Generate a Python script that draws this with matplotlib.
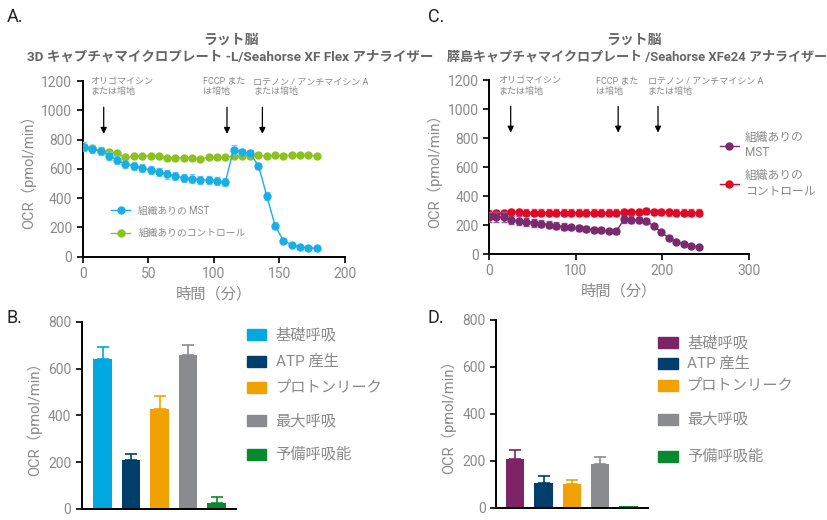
import matplotlib
matplotlib.use('Agg')
import matplotlib.pyplot as plt
from matplotlib.patches import Rectangle

plt.rcParams['font.family'] = ['Roboto', 'Noto Sans CJK JP', 'DejaVu Sans']

GRAY = '#8a8a8a'
TITLE = '#666666'

# ---- panel A: rat brain, 3D capture microplate / XF Flex
time_a = [1.0, 7.3, 13.6, 20.0, 26.3, 32.6, 39.0, 45.3, 51.7, 58.0, 64.3, 70.7, 77.0, 83.3, 89.7,
          96.0, 102.3, 108.7, 115.0, 121.4, 127.7, 134.0, 140.4, 146.7, 153.0, 159.4, 165.7, 172.1, 178.4]
mst_a = [752, 736, 720, 690, 660, 630, 621, 605, 593, 579, 563, 552, 538, 533, 524,
         522, 517, 508, 731, 717, 706, 621, 414, 212, 110, 80, 67, 62, 57]
mst_a_err = [30, 30, 28, 28, 25, 25, 28, 28, 28, 30, 30, 30, 30, 30, 28,
             28, 28, 28, 30, 22, 20, 20, 25, 25, 15, 10, 8, 8, 8]
ctrl_a = [747, 740, 724, 713, 706, 678, 685, 687, 687, 685, 674, 674, 676, 676, 669,
          678, 680, 680, 687, 685, 690, 694, 687, 694, 690, 697, 697, 697, 685]
ctrl_a_err = [10, 10, 10, 10, 10, 10, 10, 10, 10, 10, 10, 10, 10, 10, 10,
              10, 10, 10, 10, 10, 10, 10, 10, 10, 10, 10, 10, 10, 10]
inject_a = [16, 110, 137]

# ---- panel C: rat brain, islet capture microplate / XFe24
time_c = [0, 8.6, 17.3, 25.9, 34.6, 43.2, 51.9, 60.5, 69.1, 77.8, 86.4, 95.1, 103.7, 112.4, 121.0,
          129.6, 138.3, 146.9, 155.6, 164.2, 172.9, 181.5, 190.1, 198.8, 207.4, 216.1, 224.7, 233.4, 242.0]
mst_c = [255, 258, 256, 235, 230, 224, 217, 210, 203, 196, 190, 184, 178, 173, 168,
         163, 160, 156, 240, 238, 235, 225, 195, 150, 112, 85, 70, 57, 50]
mst_c_err = [35, 35, 35, 30, 30, 28, 28, 25, 25, 22, 22, 20, 20, 18, 18,
             15, 15, 15, 25, 25, 22, 20, 15, 12, 10, 8, 8, 6, 6]
ctrl_c = [280, 282, 283, 288, 288, 287, 287, 287, 287, 287, 286, 286, 286, 286, 286,
          286, 287, 287, 290, 290, 292, 298, 292, 290, 288, 287, 287, 287, 286]
ctrl_c_err = [22, 22, 22, 22, 22, 22, 22, 22, 22, 22, 22, 22, 22, 22, 22,
              22, 22, 22, 22, 22, 22, 22, 22, 22, 22, 22, 22, 22, 22]
inject_c = [25, 149, 195]

inject_labels = ['オリゴマイシン\nまたは培地', 'FCCP また\nは培地', 'ロテノン / アンチマイシン A\nまたは培地']

# ---- panels B / D: bar summaries
bar_names = ['基礎呼吸', 'ATP 産生', 'プロトンリーク', '最大呼吸', '予備呼吸能']
bars_b = [640, 210, 428, 658, 24]
bars_b_err = [54, 27, 54, 44, 26]
bars_d = [206, 104, 101, 186, 8]
bars_d_err = [40, 30, 16, 29, 0]

colors_b = ['#00a9e0', '#003e6b', '#f2a200', '#898b8e', '#078a2f']
colors_d = ['#7d2466', '#003e6b', '#f2a200', '#898b8e', '#078a2f']


def style_axes(ax):
    for s in ['top', 'right']:
        ax.spines[s].set_visible(False)
    for s in ['left', 'bottom']:
        ax.spines[s].set_linewidth(1.4)
    ax.tick_params(labelsize=10, colors='black', labelcolor=GRAY, width=1.2, length=4)


def time_panel(ax, t, y1, e1, y2, e2, c1, ec1, c2, ec2, inject, text_x, xmax):
    ctrl = ax.errorbar(t, y2, yerr=e2, color=c2, ecolor=ec2, marker='o', ms=5, lw=1,
                       capsize=2.2, elinewidth=1, zorder=2)
    mst = ax.errorbar(t, y1, yerr=e1, color=c1, ecolor=ec1, marker='o', ms=5, lw=1,
                      capsize=2.2, elinewidth=1, zorder=3)
    ax.set_ylim(0, 1200)
    ax.set_xlim(0, xmax)
    ax.set_yticks(range(0, 1201, 200))
    style_axes(ax)
    ax.set_ylabel('OCR（pmol/min）', color=GRAY, fontsize=10.5)
    ax.set_xlabel('時間（分）', color=GRAY, fontsize=11)
    for x in inject:
        ax.annotate('', xy=(x, 820), xytext=(x, 1040),
                    arrowprops=dict(arrowstyle='-|>', color='black', lw=0.9,
                                    mutation_scale=9))
    for x, lab in zip(text_x, inject_labels):
        ax.text(x, 1225, lab, fontsize=6.5, color=GRAY, va='top', ha='left',
                linespacing=1.1, clip_on=False)
    # legend handles: line + marker only, no error bars
    return [mst[0], ctrl[0]]


def bar_panel(ax, vals, errs, cols):
    x = list(range(len(vals)))
    bars = ax.bar(x, vals, width=0.65, color=cols, zorder=2)
    for xi, v, e, c in zip(x, vals, errs, cols):
        if e > 0:
            ax.errorbar(xi, v, yerr=[[0], [e]], color=c, capsize=4, elinewidth=1.2,
                        capthick=1.2, zorder=1)
    ax.set_ylim(0, 800)
    ax.set_yticks(range(0, 801, 200))
    ax.set_xticks([])
    style_axes(ax)
    ax.set_ylabel('OCR（pmol/min）', color=GRAY, fontsize=10.5)
    return bars


fig = plt.figure(figsize=(8.28, 5.2), dpi=100)

ax_a = fig.add_axes([0.0999, 0.5063, 0.3168, 0.3379])
handles = time_panel(ax_a, time_a, mst_a, mst_a_err, ctrl_a, ctrl_a_err,
                     '#1aaee5', '#7dd0f0', '#8cc21f', '#b9dc7a', inject_a, [6, 92, 130], 200)
ax_a.set_xticks(range(0, 201, 50))
ax_a.legend(handles, ['組織ありの MST', '組織ありのコントロール'], loc='upper left',
            bbox_to_anchor=(0.108, 0.29), frameon=False, fontsize=7, labelcolor=GRAY,
            handlelength=2.0, labelspacing=1.3, borderpad=0, borderaxespad=0)

ax_c = fig.add_axes([0.5906, 0.5115, 0.314, 0.3338])
handles = time_panel(ax_c, time_c, mst_c, mst_c_err, ctrl_c, ctrl_c_err,
                     '#7a2a6e', '#9a5a8e', '#dc0a28', '#f06070', inject_c, [11, 123, 183], 300)
ax_c.set_xticks(range(0, 301, 100))
ax_c.legend(handles, ['組織ありの\nMST', '組織ありの\nコントロール'], loc='upper left',
            bbox_to_anchor=(0.888, 0.71), frameon=False, fontsize=8.5,
            labelcolor=GRAY, handlelength=1.6, labelspacing=0.9, borderpad=0,
            borderaxespad=0, handletextpad=0.5)

ax_b = fig.add_axes([0.0987, 0.0212, 0.186, 0.3596])
bar_panel(ax_b, bars_b, bars_b_err, colors_b)
ax_b.set_xlim(-0.73, 4.67)

ax_d = fig.add_axes([0.599, 0.0237, 0.1832, 0.361])
bar_panel(ax_d, bars_d, bars_d_err, colors_d)
ax_d.set_xlim(-0.68, 4.68)

# bar legends with uneven spacing as in the original
legend_b_y = [334.7, 361.7, 387.7, 420.7, 454.3]
legend_d_y = [342.7, 363.3, 385.0, 419.0, 456.0]
for x0, ys, cols in [(246.7, legend_b_y, colors_b), (658.3, legend_d_y, colors_d)]:
    for yy, c, name in zip(ys, cols, bar_names):
        fig.patches.append(Rectangle((x0 / 828, 1 - (yy + 5.5) / 520), 19.5 / 828, 11 / 520,
                                     transform=fig.transFigure, color=c))
        fig.text((x0 + 29) / 828, 1 - yy / 520, name, fontsize=11, color=GRAY,
                 va='center', ha='left')

# titles and panel letters
fig.text(231 / 828, 1 - 40 / 520, 'ラット脳', fontsize=10, fontweight='bold',
         color=TITLE, ha='center', va='center')
fig.text(230 / 828, 1 - 57 / 520, '3D キャプチャマイクロプレート -L/Seahorse XF Flex アナライザー',
         fontsize=9.7, fontweight='bold', color=TITLE, ha='center', va='center')
fig.text(634 / 828, 1 - 40 / 520, 'ラット脳', fontsize=10, fontweight='bold',
         color=TITLE, ha='center', va='center')
fig.text(637 / 828, 1 - 57 / 520, '膵島キャプチャマイクロプレート /Seahorse XFe24 アナライザー',
         fontsize=9.4, fontweight='bold', color=TITLE, ha='center', va='center')
for x, y, letter in [(7, 17, 'A.'), (428, 17, 'C.'), (7, 318, 'B.'), (428, 318, 'D.')]:
    fig.text(x / 828, 1 - y / 520, letter, fontsize=13, color='#222222',
             ha='left', va='center')

fig.savefig('out.png', dpi=100)
